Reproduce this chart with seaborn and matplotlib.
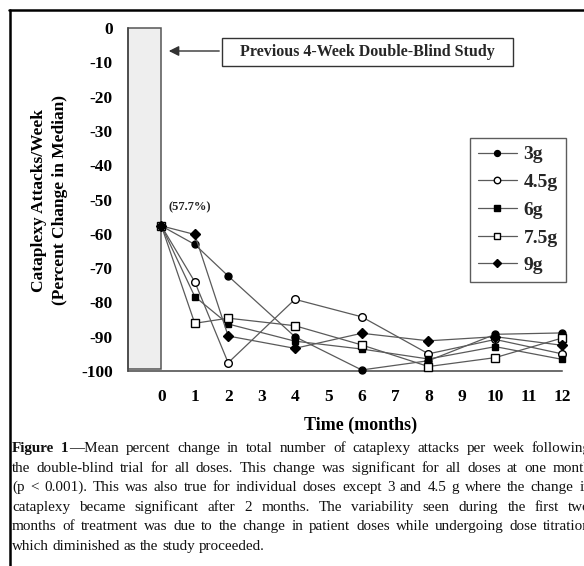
import numpy as np
import pandas as pd
import matplotlib
matplotlib.use("Agg")
import matplotlib.pyplot as plt
import seaborn as sns
from matplotlib.patches import Rectangle, FancyArrowPatch
from matplotlib.lines import Line2D

# ---- data -----------------------------------------------------------------
months = [0, 1, 2, 4, 6, 8, 10, 12]
dose_labels = ["3g", "4.5g", "6g", "7.5g", "9g"]
change_3g = [-57.7, -63.1, -72.3, -90.0, -99.7, -97.0, -89.3, -88.9]
change_4_5g = [-57.7, -74.0, -97.6, -79.1, -84.2, -95.0, -90.8, -95.0]
change_6g = [-57.7, -78.3, -86.3, -91.3, -93.6, -96.5, -92.9, -96.6]
change_7_5g = [-57.7, -86.1, -84.6, -86.8, -92.4, -98.7, -96.1, -90.4]
change_9g = [-57.7, -60.2, -89.8, -93.4, -89.0, -91.2, -90.0, -92.5]
baseline_change = -57.7
previous_study_span = [-1, 0]
previous_study_height = -99.5
y_ticks = [0, -10, -20, -30, -40, -50, -60, -70, -80, -90, -100]
x_ticks = list(range(-1, 13))
x_tick_labels = [""] + [str(m) for m in range(0, 13)]

series = [change_3g, change_4_5g, change_6g, change_7_5g, change_9g]
df = pd.DataFrame(
    [(m, v, lab) for lab, vals in zip(dose_labels, series) for m, v in zip(months, vals)],
    columns=["month", "change", "dose"],
)

caption_lines = [
    "the double-blind trial for all doses.  This change was significant for all doses at one month",
    "(p < 0.001).  This was also true for individual doses except 3 and 4.5 g where the change in",
    "cataplexy became significant after 2 months.  The variability seen during the first two",
    "months of treatment was due to the change in patient doses while undergoing dose titration",
    "which diminished as the study proceeded.",
]
caption_first = "Mean percent change in total number of cataplexy attacks per week following"

# ---- styling ----------------------------------------------------------------
sns.set_theme(style="white")
SERIF = ["Liberation Serif", "DejaVu Serif"]
plt.rcParams["font.family"] = SERIF

W, H = 584, 566
fig = plt.figure(figsize=(W / 100, H / 100), dpi=100)
fig.patch.set_facecolor("white")


def fx(x):
    return x / W


def fy(y):
    return 1 - y / H


ax = fig.add_axes([fx(128), fy(371), fx(562) - fx(128), fy(28) - fy(371)])
ax.set_facecolor("white")

# shaded block for the earlier double-blind period
ax.bar(
    x=np.mean(previous_study_span),
    height=previous_study_height,
    width=previous_study_span[1] - previous_study_span[0],
    bottom=0,
    color="#eeeeee",
    edgecolor="#555555",
    linewidth=1.1,
    clip_on=False,
    zorder=1,
)

line_color = "#5a5a5a"
marker_specs = {
    "3g": dict(marker="o", markerfacecolor="black", markersize=5.0),
    "4.5g": dict(marker="o", markerfacecolor="white", markersize=5.5),
    "6g": dict(marker="s", markerfacecolor="black", markersize=5.0),
    "7.5g": dict(marker="s", markerfacecolor="white", markersize=5.5),
    "9g": dict(marker="D", markerfacecolor="black", markersize=5.0),
}
for lab in dose_labels:
    sub = df[df["dose"] == lab]
    sns.lineplot(
        data=sub, x="month", y="change", ax=ax,
        color=line_color, linewidth=0.9,
        markeredgecolor="black", markeredgewidth=1.0,
        legend=False, zorder=3, clip_on=False,
        **marker_specs[lab],
    )

ax.set_xlim(-1, 12)
ax.set_ylim(-100, 0)
ax.set_xticks(x_ticks, labels=x_tick_labels)
ax.set_yticks(y_ticks, labels=[str(t) for t in y_ticks])
for s in ["top", "right"]:
    ax.spines[s].set_visible(False)
for s in ["left", "bottom"]:
    ax.spines[s].set_color("#444444")
    ax.spines[s].set_linewidth(1.1)
ax.tick_params(axis="both", direction="out", length=4, width=1.0, color="#444444",
               labelsize=12.5, labelcolor="black")
ax.tick_params(axis="y", pad=7)
ax.tick_params(axis="x", pad=9)
for t in ax.get_xticklabels() + ax.get_yticklabels():
    t.set_fontweight("bold")
    t.set_family(SERIF)

ax.set_xlabel("Time (months)", fontsize=13, fontweight="bold", family=SERIF, color="black")
ax.xaxis.set_label_coords((361 - 128) / 434, (371 - 425) / 343)
ax.xaxis.label.set_verticalalignment("center")
ax.set_ylabel("Cataplexy Attacks/Week\n(Percent Change in Median)", fontsize=12.5,
              fontweight="bold", family=SERIF, color="black", linespacing=1.35)
ax.yaxis.set_label_coords((49.5 - 128) / 434, (371 - 200) / 343)
ax.yaxis.label.set_verticalalignment("center")

# starting value label
ax.annotate(f"({abs(baseline_change):.1f}%)", xy=(0, baseline_change), xytext=(5, 9),
            textcoords="offset points", fontsize=9, fontweight="bold", family=SERIF,
            ha="left", va="bottom", color="#222222")

# legend
handles = ax.lines[:5]
leg = fig.legend(
    handles, dose_labels, loc="upper left",
    bbox_to_anchor=(fx(470), fy(138)), bbox_transform=fig.transFigure,
    borderaxespad=0, frameon=True, fancybox=False, shadow=False,
    prop=dict(family=SERIF, weight="bold", size=14),
    handlelength=2.0, handletextpad=0.35, borderpad=0.4, labelspacing=0.52,
    numpoints=1, markerscale=0.85,
)
leg.get_frame().set_edgecolor("#333333")
leg.get_frame().set_linewidth(1.0)

# callout box and arrow
fig.add_artist(Rectangle((fx(222), fy(66)), fx(513) - fx(222), fy(38) - fy(66),
                         transform=fig.transFigure, facecolor="white",
                         edgecolor="#333333", linewidth=1.0))
fig.text(fx(367.5), fy(52), "Previous 4-Week Double-Blind Study", fontsize=11.5,
         fontweight="bold", family=SERIF, ha="center", va="center")
fig.add_artist(FancyArrowPatch(
    (fx(222), fy(51)), (fx(166), fy(51)), transform=fig.transFigure,
    arrowstyle="-|>,head_length=4,head_width=2", color="#333333",
    linewidth=1.0, mutation_scale=1.5))

# outer frame
fig.add_artist(Line2D([fx(9.5), fx(9.5)], [0, fy(10)], transform=fig.transFigure,
                      color="black", linewidth=1.8))
fig.add_artist(Line2D([fx(8.6), 1.0], [fy(10), fy(10)], transform=fig.transFigure,
                      color="black", linewidth=1.8))

# caption, justified between two margins
fig.canvas.draw()
renderer = fig.canvas.get_renderer()
CAP_SIZE = 10.9


def text_width(s, weight="normal"):
    t = fig.text(0, 0, s, fontsize=CAP_SIZE, family=SERIF, fontweight=weight)
    w = t.get_window_extent(renderer).width
    t.remove()
    return w


left_px, right_px = 12.0, 591.0
line_gap = 19.6
baseline0 = 452.0


def place_line(units, y_px, justify=True):
    widths = [sum(text_width(s, w) for s, w in u) for u in units]
    if justify and len(units) > 1:
        gap = (right_px - left_px - sum(widths)) / (len(units) - 1)
    else:
        gap = text_width("a b") - text_width("ab")
    x = left_px
    for u, wtot in zip(units, widths):
        xx = x
        for s, w in u:
            fig.text(fx(xx), fy(y_px), s, fontsize=CAP_SIZE, family=SERIF,
                     fontweight=w, ha="left", va="baseline", color="#111111")
            xx += text_width(s, w)
        x += wtot + gap


first_words = caption_first.split()
units0 = [[("Figure", "bold")], [("1", "bold"), ("\u2014" + first_words[0], "normal")]]
units0 += [[(w, "normal")] for w in first_words[1:]]
place_line(units0, baseline0)
for i, line in enumerate(caption_lines):
    units = [[(w, "normal")] for w in line.split()]
    place_line(units, baseline0 + (i + 1) * line_gap, justify=(i < len(caption_lines) - 1))

fig.savefig("out.png", dpi=100, facecolor="white")
